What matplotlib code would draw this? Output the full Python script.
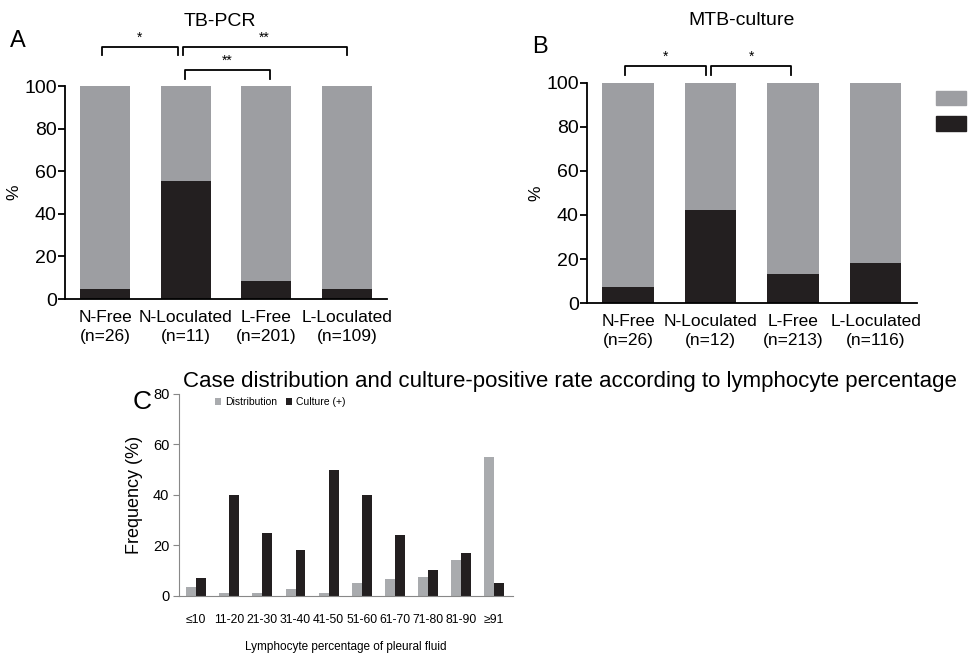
import matplotlib
matplotlib.use("Agg")
import matplotlib.pyplot as plt
import numpy as np

plt.rcParams["font.family"] = ["Liberation Sans", "DejaVu Sans"]

groups = ["N-Free", "N-Loculated", "L-Free", "L-Loculated"]
pcr_n = [26, 11, 201, 109]
pcr_pos = [4.7, 55.5, 8.5, 4.6]
culture_n = [26, 12, 213, 116]
culture_pos = [7.4, 42.4, 13.3, 18.3]

lympho_bins = ["≤10", "11-20", "21-30", "31-40", "41-50",
               "51-60", "61-70", "71-80", "81-90", "≥91"]
distribution = [3.7, 1.3, 1.1, 2.9, 1.3, 5.3, 6.9, 7.7, 14.4, 55.0]
culture_rate = [7.1, 40.0, 25.1, 18.3, 50.0, 40.0, 24.2, 10.4, 17.0, 5.0]

GREY = "#9d9ea2"
DARK = "#231f20"
LIGHT = "#a9abae"

fig = plt.figure(figsize=(9.76, 6.56), dpi=100)


def stacked_panel(ax, pos, ns):
    x = np.arange(len(groups))
    neg = [100 - p for p in pos]
    ax.bar(x, pos, width=0.625, color=DARK)
    ax.bar(x, neg, bottom=pos, width=0.625, color=GREY)
    ax.set_xlim(-0.5, 3.5)
    ax.set_ylim(0, 100)
    ax.set_yticks([0, 20, 40, 60, 80, 100])
    ax.set_xticks(x)
    ax.set_xticklabels([f"{g}\n(n={n})" for g, n in zip(groups, ns)],
                       linespacing=1.3)
    ax.tick_params(axis="x", length=0, pad=8, labelsize=12.5)
    ax.tick_params(axis="y", length=5, width=1.3, labelsize=14, pad=1)
    for s in ["top", "right"]:
        ax.spines[s].set_visible(False)
    for s in ["left", "bottom"]:
        ax.spines[s].set_linewidth(1.3)
    ax.set_ylabel("%", fontsize=12.5, labelpad=2)


def bracket(ax, x0, x1, y, drop, label, ly):
    ax.plot([x0, x0, x1, x1], [y - drop, y, y, y - drop], color="black",
            lw=1.3, clip_on=False)
    ax.text((x0 + x1) / 2, ly, label, ha="center", va="center", fontsize=10)


# Panel A
axA = fig.add_axes([0.0666, 0.5442, 0.330, 0.3247])
stacked_panel(axA, pcr_pos, pcr_n)
bracket(axA, -0.04, 0.9, 118.3, 3.8, "*", 122.5)
bracket(axA, 0.96, 3.0, 118.3, 3.8, "**", 122.5)
bracket(axA, 0.99, 2.04, 107.5, 4.3, "**", 112)
axA.text(0.48, 1.305, "TB-PCR", transform=axA.transAxes, ha="center",
         va="center", fontsize=14)
fig.text(0.01, 0.937, "A", fontsize=17, va="center")

# Panel B
axB = fig.add_axes([0.6014, 0.5381, 0.338, 0.3354])
stacked_panel(axB, culture_pos, culture_n)
bracket(axB, -0.04, 0.94, 107.7, 4.1, "*", 111.8)
bracket(axB, 1.0, 1.98, 107.7, 4.1, "*", 111.8)
axB.text(0.47, 1.286, "MTB-culture", transform=axB.transAxes, ha="center",
         va="center", fontsize=14)
fig.text(0.545, 0.928, "B", fontsize=17, va="center")
# legend swatches (labels cut off in the original)
for yy, hh, col in [(0.840, 0.0213, GREY), (0.8003, 0.023, DARK)]:
    fig.patches.append(plt.Rectangle((0.959, yy), 0.031, hh, color=col,
                                     transform=fig.transFigure))

# Panel C
axC = fig.add_axes([0.1834, 0.0915, 0.3422, 0.3079])
xc = np.arange(len(lympho_bins))
axC.bar(xc - 0.15, distribution, width=0.3, color=LIGHT, label="Distribution")
axC.bar(xc + 0.15, culture_rate, width=0.3, color=DARK, label="Culture (+)")
axC.set_xlim(-0.52, 9.57)
axC.set_ylim(0, 80)
axC.set_yticks([0, 20, 40, 60, 80])
axC.set_xticks(xc)
axC.set_xticklabels(lympho_bins, fontsize=8.8)
axC.tick_params(axis="y", labelsize=10.5)
axC.tick_params(axis="x", length=0, pad=13)
axC.tick_params(axis="y", length=4, color="#888888", pad=3)
for s in ["top", "right"]:
    axC.spines[s].set_visible(False)
for s in ["left", "bottom"]:
    axC.spines[s].set_color("#888888")
    axC.spines[s].set_linewidth(0.8)
axC.set_ylabel("Frequency (%)", fontsize=13, labelpad=7)
axC.set_xlabel("Lymphocyte percentage of pleural fluid", fontsize=8.5,
               labelpad=11)
axC.legend(loc="upper left", bbox_to_anchor=(0.08, 1.03), ncol=2,
           frameon=False, prop={"size": 7.5}, handlelength=0.6,
           handleheight=0.7, handletextpad=0.4, columnspacing=0.8)
fig.text(0.1875, 0.418, "Case distribution and culture-positive rate "
         "according to lymphocyte percentage", fontsize=16, va="center")
fig.text(0.136, 0.387, "C", fontsize=19, va="center")

fig.savefig("out.png", dpi=100)
